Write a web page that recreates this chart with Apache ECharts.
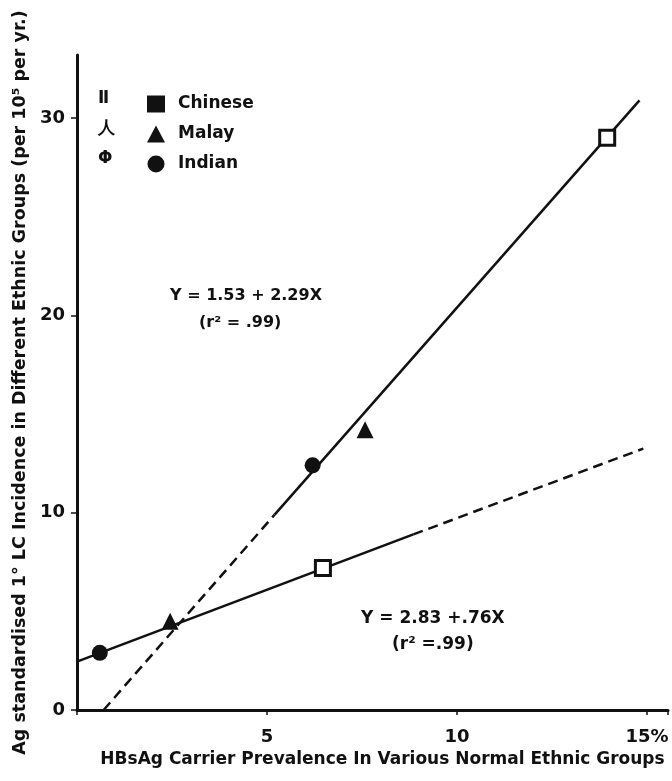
<!DOCTYPE html>
<html>
<head>
<meta charset="utf-8">
<script src="https://cdn.jsdelivr.net/npm/echarts@6/dist/echarts.min.js"></script>
<style>
  html, body { margin: 0; padding: 0; background: #fff; }
  #chart { width: 672px; height: 781px; }
</style>
</head>
<body>
<div id="chart"></div>
<script>
    // points: [carrier prevalence %, incidence]
    const chinese = [[6.47, 7.2], [13.95, 29.0]]
    const malay = [[2.45, 4.5], [7.58, 14.2]]
    const indian = [[0.6, 2.9], [6.2, 12.4]]

    // regression lines (solid part / dashed extrapolation)
    const upperDash = [[0.7, 0], [5.2, 9.9]]
    const upperSolid = [[5.2, 9.9], [14.8, 30.9]]
    const lowerSolid = [[0, 2.45], [8.85, 8.9]]
    const lowerDash = [[8.85, 8.9], [14.9, 13.25]]

    const xTicks = [5, 10, 15]
    const xTickLabels = ['5', '10', '15%']
    const yTicks = [0, 10, 20, 30]
    const yTickLabels = ['0', '10', '20', '30']

    const groups = ['Chinese', 'Malay', 'Indian']
    const openGlyphs = ['Ⅱ', '人', 'Φ']

    const font = 'DejaVu Sans'
    const ink = '#111'

    const chart = echarts.init(document.getElementById('chart'))

    const lineSeries = (data, dashed) => ({
        type: 'line',
        data,
        symbol: 'none',
        silent: true,
        z: 2,
        lineStyle: { color: ink, width: 2.5, type: dashed ? [10, 6] : 'solid' }
    })

    const option = {
        backgroundColor: '#fff',
        animation: false,
        grid: { left: 77, right: 4, top: 55, bottom: 71, outerBoundsMode: 'none' },
        xAxis: {
            type: 'value',
            min: 0,
            max: 15.55,
            interval: 5,
            name: 'HBsAg Carrier Prevalence In Various Normal Ethnic Groups',
            nameLocation: 'middle',
            nameGap: 40,
            nameTextStyle: {
                fontFamily: font, fontWeight: 'bold', fontSize: 17, color: ink,
                padding: [0, 0, 0, 20]
            },
            axisLine: { lineStyle: { color: ink, width: 3 } },
            axisTick: { length: 5, lineStyle: { color: ink, width: 1.5 } },
            splitLine: { show: false },
            axisLabel: {
                margin: 18,
                fontFamily: font,
                fontWeight: 'bold',
                fontSize: 18,
                color: ink,
                formatter: v => {
                    const i = xTicks.indexOf(v)
                    return i < 0 ? '' : xTickLabels[i]
                }
            }
        },
        yAxis: {
            type: 'value',
            min: 0,
            max: 33.2,
            interval: 10,
            name: 'Ag standardised 1° LC Incidence in Different Ethnic Groups (per 10⁵ per yr.)',
            nameLocation: 'middle',
            nameGap: 46,
            nameTextStyle: { fontFamily: font, fontWeight: 'bold', fontSize: 17.5, color: ink },
            axisLine: { show: true, lineStyle: { color: ink, width: 3 } },
            axisTick: { show: true, length: 6, lineStyle: { color: ink, width: 1.5 } },
            splitLine: { show: false },
            axisLabel: {
                margin: 12,
                showMaxLabel: false,
                fontFamily: font,
                fontWeight: 'bold',
                fontSize: 18,
                color: ink,
                formatter: v => {
                    const i = yTicks.indexOf(v)
                    return i < 0 ? '' : yTickLabels[i]
                }
            }
        },
        legend: {
            orient: 'vertical',
            left: 142,
            top: 90,
            itemGap: 12,
            itemWidth: 18,
            itemHeight: 17,
            inactiveColor: ink,
            textStyle: {
                fontFamily: font, fontWeight: 'bold', fontSize: 17, color: ink,
                lineHeight: 18, padding: [0, 0, 0, 8]
            },
            data: groups.map(g => ({ name: g, itemStyle: { color: ink, borderWidth: 0, opacity: 1 } }))
        },
        graphic: openGlyphs.map((t, i) => ({
            type: 'text',
            left: 98,
            top: 90 + i * 30,
            style: { text: t, font: 'bold 17px "' + font + '"', fill: ink }
        })).concat([
            {
                type: 'text', left: 170, top: 288,
                style: { text: 'Y = 1.53 + 2.29X', font: 'bold 16px "' + font + '"', fill: ink }
            },
            {
                type: 'text', left: 199, top: 315,
                style: { text: '(r² = .99)', font: 'bold 16px "' + font + '"', fill: ink }
            },
            {
                type: 'text', left: 361, top: 610,
                style: { text: 'Y = 2.83 +.76X', font: 'bold 17px "' + font + '"', fill: ink }
            },
            {
                type: 'text', left: 392, top: 636,
                style: { text: '(r² =.99)', font: 'bold 17px "' + font + '"', fill: ink }
            }
        ]),
        series: [
            lineSeries(upperDash, true),
            lineSeries(upperSolid, false),
            lineSeries(lowerSolid, false),
            lineSeries(lowerDash, true),
            {
                name: groups[0],
                type: 'scatter',
                data: chinese,
                symbol: 'rect',
                symbolSize: 15,
                z: 5,
                itemStyle: { color: '#fff', borderColor: ink, borderWidth: 3, opacity: 1 }
            },
            {
                name: groups[1],
                type: 'scatter',
                data: malay,
                symbol: 'triangle',
                symbolSize: 17,
                z: 5,
                itemStyle: { color: ink, opacity: 1 }
            },
            {
                name: groups[2],
                type: 'scatter',
                data: indian,
                symbol: 'circle',
                symbolSize: 16,
                z: 5,
                itemStyle: { color: ink, opacity: 1 }
            }
        ]
    }

    chart.setOption(option)
</script>
</body>
</html>
